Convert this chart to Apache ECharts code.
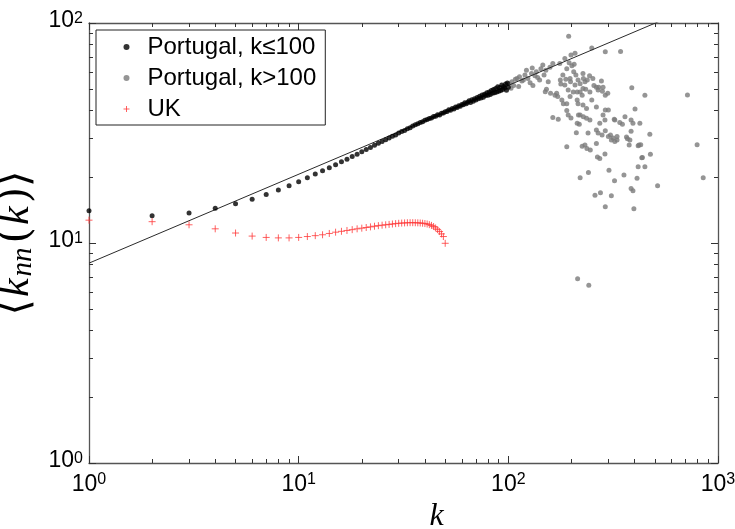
<!DOCTYPE html>
<html>
<head>
<meta charset="utf-8">
<script src="https://cdn.jsdelivr.net/npm/echarts@6/dist/echarts.min.js"></script>
<style>
  html, body { margin: 0; padding: 0; background: #fff; }
  #chart { width: 735px; height: 529px; }
</style>
</head>
<body>
<div id="chart"></div>
<script>
// Average nearest-neighbour degree <k_nn(k)> versus degree k (log-log)

// Portugal, degrees k = 1..100
const portugalLowK = [];
for (let k = 1; k <= 100; k++) portugalLowK.push(k);
const portugalLowV = [
  14.0, 13.3, 13.7, 14.4, 15.1, 15.8, 16.6, 17.4, 18.2, 19.0,
  19.8, 20.6, 21.3, 22.0, 22.7, 23.4, 24.0, 24.7, 25.3, 26.0,
  26.6, 27.2, 27.8, 28.4, 28.9, 29.5, 30.0, 30.6, 31.0, 31.6,
  32.1, 32.5, 33.1, 33.4, 34.0, 34.5, 34.8, 35.3, 35.6, 36.1,
  36.4, 36.8, 37.0, 37.6, 37.7, 38.3, 38.2, 38.9, 39.0, 39.5,
  39.6, 40.3, 40.1, 40.9, 40.7, 41.5, 41.3, 42.1, 41.8, 42.6,
  42.5, 43.4, 42.9, 43.6, 44.3, 43.5, 44.8, 44.1, 45.2, 44.7,
  45.9, 45.3, 46.4, 45.6, 47.1, 46.0, 47.4, 46.8, 48.2, 46.9,
  48.6, 47.3, 49.4, 48.0, 49.9, 48.2, 50.4, 48.6, 51.3, 49.0,
  50.9, 49.3, 52.2, 49.9, 51.5, 50.6, 52.8, 49.5, 53.4, 51.0
];

// Portugal, degrees k > 100: [k, <k_nn>]
const portugalHigh = [
  [101, 53], [103, 50.5], [104, 54], [106, 52], [108, 55.5], [110, 56], [112, 51.5],
  [113, 57], [116, 54.5], [118, 55], [120, 58], [122, 61], [124, 56], [127, 53.5],
  [129, 59], [130, 62.5], [131, 52], [134, 57.5], [136, 60], [138, 56.5], [141, 55],
  [143, 62], [146, 64.5], [148, 58], [150, 48.7], [151, 61], [152, 50], [155, 54],
  [158, 63], [159, 48], [163, 65.5], [163, 37.2], [167, 47], [170, 47.9], [172, 46.3],
  [173, 36.5], [176, 65.4], [177, 55], [178, 52.8], [180, 44.7], [182, 58], [183, 43],
  [186, 69], [186, 52.3], [188, 55.5], [190, 62], [190, 43], [190, 40], [190, 27.4],
  [193, 49.6], [193, 38.2], [194, 87], [195, 66], [197, 56], [198, 54], [197, 46.3],
  [199, 71.6], [199, 37], [201, 64], [204, 48.6], [205, 60], [206, 65], [208, 72.8],
  [208, 52.3], [210, 58], [211, 31.7], [213, 48.6], [213, 44.7], [213, 35], [214, 6.87],
  [215, 55], [215, 43], [216, 38.2], [218, 34.7], [220, 53], [220, 48.6], [220, 38.2],
  [220, 19.8], [225, 47], [225, 27.5], [227, 59], [227, 50.4], [227, 42.4], [228, 37.5],
  [228, 56], [232, 54], [232, 27.9], [234, 50], [236, 40.9], [236, 36.9], [237, 26.9],
  [238, 55], [240, 31.6], [241, 20.9], [242, 6.42], [244, 57.5], [245, 48.6], [245, 36.2],
  [246, 26.5], [250, 77], [250, 44.7], [253, 56], [256, 52], [259, 16.5], [263, 51],
  [263, 41.5], [263, 32.6], [263, 28.3], [266, 24.6], [268, 49.6], [268, 31.6], [270, 51],
  [273, 35], [273, 24.2], [275, 16.9], [278, 54.5], [280, 31], [281, 49], [283, 51],
  [283, 38.2], [289, 36.2], [289, 25.4], [290, 74], [290, 47], [290, 40.2], [290, 32.4],
  [290, 14.6], [298, 48], [300, 40.2], [300, 30.5], [302, 21.4], [307, 31], [310, 29.4],
  [310, 16.4], [316, 30], [320, 36.5], [321, 19.2], [322, 28.9], [322, 36.2], [330, 30.5],
  [330, 29.4], [340, 35.3], [343, 74.3], [350, 34.7], [356, 20.4], [360, 37.5], [366, 30.3],
  [370, 29.8], [377, 27.9], [380, 29.4], [385, 36.2], [385, 32.2], [385, 17.7], [388, 50.8],
  [393, 35], [393, 17.3], [397, 14.3], [402, 40.7], [411, 19.7], [416, 27.7], [416, 22.2],
  [420, 27.9], [424, 35], [428, 28], [433, 24.4], [436, 24.5], [448, 47], [448, 22.2],
  [473, 31.2], [476, 25.3], [515, 18.2], [715, 47.1], [795, 28], [850, 19.8]
];

// UK, degrees k = 1..50
const ukK = [];
for (let k = 1; k <= 50; k++) ukK.push(k);
const ukV = [
  12.7, 12.5, 12.1, 11.6, 11.1, 10.75, 10.6, 10.55, 10.55, 10.6,
  10.7, 10.8, 10.9, 11.05, 11.2, 11.3, 11.4, 11.5, 11.6, 11.68,
  11.76, 11.84, 11.92, 11.99, 12.05, 12.1, 12.15, 12.2, 12.25, 12.29,
  12.32, 12.34, 12.36, 12.37, 12.37, 12.36, 12.35, 12.33, 12.3, 12.26,
  12.2, 12.12, 12.02, 11.88, 11.7, 11.5, 11.27, 11.0, 10.7, 9.97
];

// power-law fit, drawn between its end points
const fitK = [1, 1000];
const fitV = [8.1, 132];

// tick positions: decades and the 2..9 steps between them
const xMajorTicks = [1, 10, 100, 1000];
const xMinorTicks = [2, 3, 4, 5, 6, 7, 8, 9, 20, 30, 40, 50, 60, 70, 80, 90, 200, 300, 400, 500, 600, 700, 800, 900];
const yMajorTicks = [1, 10, 100];
const yMinorTicks = [2, 3, 4, 5, 6, 7, 8, 9, 20, 30, 40, 50, 60, 70, 80, 90];

const FRAME = '#555';
const TICK = '#333';
const PLUS = 'path://M0 5 L10 5 M5 0 L5 10';
const LABEL_FONT = 'Liberation Sans';

function decadeLabel(v) {
  const e = Math.round(Math.log10(v));
  return '{b|10}{s|' + e + '}';
}

function tickRich(padBottom) {
  return {
    b: { fontSize: 23, fontFamily: LABEL_FONT, color: '#000', lineHeight: 24, padding: [7, 0, padBottom, 0], verticalAlign: 'bottom' },
    s: { fontSize: 16, fontFamily: LABEL_FONT, color: '#000', lineHeight: 17, verticalAlign: 'top' }
  };
}

// data axis (log scale) carrying the frame line and the decade labels
function dataAxis(range, position, extra) {
  return Object.assign({
    type: 'log',
    logBase: 10,
    min: range[0],
    max: range[1],
    position: position,
    splitLine: { show: false },
    axisLine: { show: true, onZero: false, lineStyle: { color: FRAME, width: 1.3 } },
    axisTick: { show: false },
    axisLabel: { show: false }
  }, extra || {});
}

// tick-only axis laid out in decades (log10 units)
function tickAxis(range, position, values, len) {
  return {
    type: 'value',
    min: Math.log10(range[0]),
    max: Math.log10(range[1]),
    position: position,
    splitLine: { show: false },
    axisLine: { show: false, onZero: false },
    axisLabel: { show: false },
    axisTick: {
      show: true,
      inside: true,
      length: len,
      customValues: values.map(function (v) { return Math.log10(v); }),
      lineStyle: { color: TICK, width: 1 }
    }
  };
}

const xRange = [1, 1000];
const yRange = [1, 100];

const option = {
  backgroundColor: '#fff',
  animation: false,
  grid: { left: 89, right: 17, top: 23, bottom: 66, containLabel: false, outerBoundsMode: 'none' },
  legend: {
    orient: 'vertical',
    left: 96,
    top: 30,
    padding: [5, 9, 4, 27],
    itemGap: 7,
    itemWidth: 32,
    itemHeight: 6,
    borderColor: '#222',
    borderWidth: 1,
    borderRadius: 0,
    backgroundColor: '#fff',
    selectedMode: false,
    textStyle: { fontSize: 24, fontFamily: LABEL_FONT, color: '#000' },
    data: [
      { name: 'Portugal, k≤100', icon: 'circle' },
      { name: 'Portugal, k>100', icon: 'circle' },
      { name: 'UK', icon: PLUS, itemStyle: { color: 'transparent', borderColor: '#ff3a3a', borderWidth: 1 } }
    ]
  },
  xAxis: [
    dataAxis(xRange, 'bottom', {
      axisLabel: { show: true, formatter: decadeLabel, margin: 9, rich: tickRich(0) },
      name: '{i|k}',
      nameLocation: 'middle',
      nameGap: 34,
      nameTextStyle: {
        padding: [0, 0, 0, 66],
        rich: { i: { fontSize: 32, fontFamily: 'Liberation Serif', fontStyle: 'italic', color: '#000' } }
      }
    }),
    dataAxis(xRange, 'top'),
    tickAxis(xRange, 'bottom', xMajorTicks, 7),
    tickAxis(xRange, 'bottom', xMinorTicks, 4),
    tickAxis(xRange, 'top', xMajorTicks, 7),
    tickAxis(xRange, 'top', xMinorTicks, 4)
  ],
  yAxis: [
    dataAxis(yRange, 'left', {
      axisLabel: { show: true, formatter: decadeLabel, margin: 6, rich: tickRich(3) },
      name: '{a|⟨}{i|k}{sub|nn}{a|(}{i|k}{a|)⟩}',
      nameLocation: 'middle',
      nameRotate: 90,
      nameGap: 41,
      nameTextStyle: {
        rich: {
          a: { fontSize: 42, fontFamily: 'DejaVu Serif', color: '#000', verticalAlign: 'bottom', lineHeight: 44, padding: [0, 1, 0, 1] },
          i: { fontSize: 42, fontFamily: 'Liberation Serif', fontStyle: 'italic', color: '#000', verticalAlign: 'bottom', lineHeight: 44, padding: [0, 2, 0, 1] },
          sub: { fontSize: 29, fontFamily: 'Liberation Serif', fontStyle: 'italic', color: '#000', verticalAlign: 'bottom', lineHeight: 29, padding: [0, 3, 0, 0] }
        }
      }
    }),
    dataAxis(yRange, 'right'),
    tickAxis(yRange, 'left', yMajorTicks, 7),
    tickAxis(yRange, 'left', yMinorTicks, 4),
    tickAxis(yRange, 'right', yMajorTicks, 7),
    tickAxis(yRange, 'right', yMinorTicks, 4)
  ],
  series: [
    {
      name: 'Portugal, k>100',
      type: 'scatter',
      xAxisIndex: 0, yAxisIndex: 0,
      symbol: 'circle',
      symbolSize: 5,
      itemStyle: { color: '#7b7b7b' },
      data: portugalHigh,
      z: 2
    },
    {
      name: 'fit',
      type: 'line',
      xAxisIndex: 0, yAxisIndex: 0,
      symbol: 'none',
      lineStyle: { color: '#2a2a2a', width: 1 },
      data: fitK.map(function (k, i) { return [k, fitV[i]]; }),
      silent: true,
      z: 3
    },
    {
      name: 'Portugal, k≤100',
      type: 'scatter',
      xAxisIndex: 0, yAxisIndex: 0,
      symbol: 'circle',
      symbolSize: 5,
      itemStyle: { color: '#000' },
      data: portugalLowK.map(function (k, i) { return [k, portugalLowV[i]]; }),
      z: 4
    },
    {
      name: 'UK',
      type: 'scatter',
      xAxisIndex: 0, yAxisIndex: 0,
      symbol: PLUS,
      symbolSize: 7,
      itemStyle: { color: 'transparent', borderColor: '#ff3a3a', borderWidth: 1 },
      data: ukK.map(function (k, i) { return [k, ukV[i]]; }),
      z: 4
    }
  ]
};

const chart = echarts.init(document.getElementById('chart'), null, { renderer: 'canvas' });
chart.setOption(option);
</script>
</body>
</html>
